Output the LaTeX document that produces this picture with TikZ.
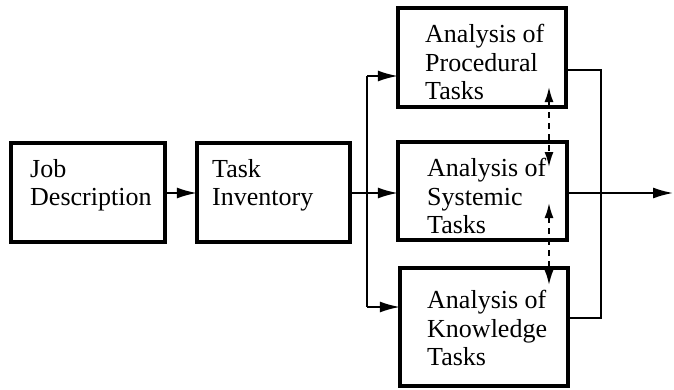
\documentclass[tikz,border=0pt]{standalone}
\usepackage{fontspec}
\setmainfont{Liberation Serif}
\usetikzlibrary{arrows.meta}
\begin{document}
\begin{tikzpicture}[x=1pt,y=-1pt,
  box/.style={draw,line width=3.2pt,inner sep=0pt},
  lbl/.style={anchor=north west,inner sep=0pt,align=left,font=\fontsize{26}{28.5}\selectfont},
  conn/.style={line width=1.8pt},
  arr/.style={conn,-{Latex[length=20pt,width=11pt]}},
  darr/.style={conn,dash pattern=on 6pt off 5pt,{Latex[length=15pt,width=9pt]}-{Latex[length=15pt,width=9pt]}}]
\useasboundingbox (0,0) rectangle (674,389);
% boxes
\draw[box] (11,143) rectangle (165,242);
\node (job) at (88,192.5) [minimum width=154pt,minimum height=99pt] {};
\draw[box] (197,143) rectangle (350,242);
\node (task) at (273.5,192.5) [minimum width=153pt,minimum height=99pt] {};
\draw[box] (398,8) rectangle (566,107);
\node (proc) at (482,57.5) [minimum width=168pt,minimum height=99pt] {};
\draw[box] (398,142) rectangle (567,240);
\node (sys) at (482.5,191) [minimum width=169pt,minimum height=98pt] {};
\draw[box] (400,268) rectangle (568,386);
\node (know) at (484,327) [minimum width=168pt,minimum height=118pt] {};
% labels
\node[lbl] (tjob) at (30,159) {Job\\Description};
\node[lbl] (ttask) at (212,159) {Task\\Inventory};
\node[lbl] (tproc) at (425,24) {Analysis of\\Procedural\\Tasks};
\node[lbl] (tsys) at (427,158) {Analysis of\\Systemic\\Tasks};
\node[lbl] (tknow) at (427,290) {Analysis of\\Knowledge\\Tasks};
% coordinates
\coordinate (brT) at (367,76);
\coordinate (brB) at (367,307);
\coordinate (out) at (673,193);
\coordinate (cT) at (601,70);
\coordinate (cB) at (601,318);
% connectors
\draw[arr] (job.east |- 0,193) -- (task.west |- 0,193);
\draw[arr] (task.east |- 0,193) -- (sys.west |- 0,193);
\draw[conn] (brT) -- (brB);
\draw[arr] (brT) -- (proc.west |- brT);
\draw[arr] (brB) -- (know.west |- brB);
\draw[arr] (sys.east |- out) -- (out);
\draw[conn] (proc.east |- cT) -- (cT) -- (cB) -- (know.east |- cB);
\draw[darr] (549,87) -- (549,167);
\draw[darr] (549,203) -- (549,285);
\end{tikzpicture}
\end{document}
